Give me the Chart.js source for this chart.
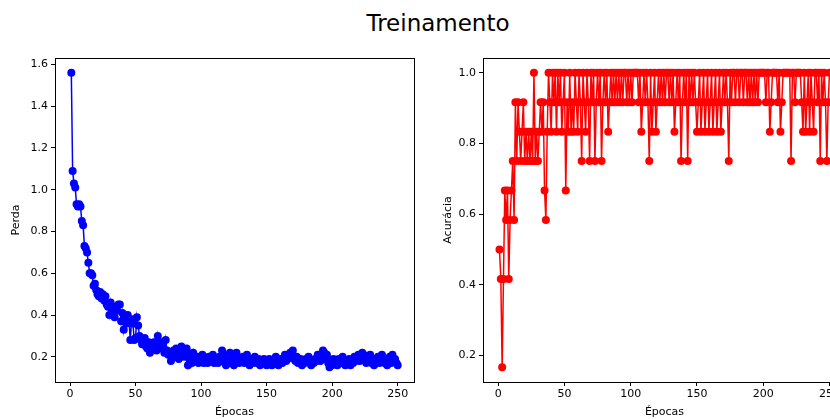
<!DOCTYPE html>
<html><head><meta charset="utf-8">
<script src="https://cdn.jsdelivr.net/npm/chart.js@4.4.1/dist/chart.umd.min.js"></script>
<style>
html,body{margin:0;padding:0;background:#fff;width:830px;height:419px;overflow:hidden;position:relative;font-family:"DejaVu Sans",sans-serif;}
#title{position:absolute;top:10px;left:0;width:876px;text-align:center;font-size:23px;color:#000;}
#wl{position:absolute;left:0;top:0;width:424px;height:419px;}
#wr{position:absolute;left:428px;top:0;width:430px;height:419px;}
</style></head><body>
<div id="title">Treinamento</div>
<div id="wl"><canvas id="cl"></canvas></div>
<div id="wr"><canvas id="cr"></canvas></div>
<script>
const lossValues = [
1.56,1.09,1.03,1.01,0.93,0.92,0.93,0.92,0.85,0.83,
0.73,0.72,0.70,0.65,0.60,0.60,0.59,0.54,0.55,0.52,
0.50,0.49,0.51,0.48,0.50,0.47,0.49,0.45,0.44,0.40,
0.46,0.42,0.41,0.39,0.44,0.42,0.45,0.45,0.37,0.41,
0.33,0.38,0.36,0.40,0.37,0.28,0.38,0.36,0.28,0.29,
0.39,0.35,0.30,0.28,0.26,0.27,0.29,0.25,0.24,0.27,
0.22,0.26,0.25,0.27,0.24,0.23,0.30,0.26,0.27,0.24,
0.25,0.22,0.28,0.23,0.21,0.22,0.18,0.21,0.23,0.20,
0.24,0.22,0.19,0.21,0.25,0.23,0.20,0.22,0.24,0.16,
0.19,0.21,0.17,0.22,0.18,0.19,0.20,0.17,0.18,0.19,
0.21,0.17,0.18,0.19,0.17,0.20,0.18,0.19,0.21,0.17,
0.18,0.19,0.17,0.20,0.18,0.23,0.21,0.19,0.16,0.18,
0.17,0.22,0.19,0.20,0.16,0.21,0.22,0.18,0.17,0.19,
0.18,0.20,0.17,0.19,0.21,0.18,0.16,0.18,0.19,0.17,
0.20,0.18,0.17,0.19,0.16,0.18,0.17,0.19,0.18,0.16,
0.17,0.19,0.18,0.16,0.17,0.18,0.20,0.17,0.16,0.18,
0.19,0.17,0.18,0.21,0.18,0.19,0.20,0.22,0.21,0.23,
0.19,0.18,0.20,0.17,0.18,0.19,0.16,0.18,0.17,0.19,
0.18,0.20,0.17,0.16,0.18,0.17,0.19,0.18,0.21,0.19,
0.18,0.20,0.23,0.22,0.19,0.21,0.17,0.15,0.18,0.16,
0.19,0.17,0.18,0.16,0.19,0.17,0.18,0.20,0.17,0.16,
0.18,0.17,0.19,0.16,0.18,0.17,0.20,0.18,0.19,0.21,
0.18,0.20,0.22,0.21,0.19,0.17,0.20,0.18,0.21,0.17,
0.19,0.16,0.17,0.18,0.20,0.17,0.18,0.21,0.19,0.17,
0.18,0.16,0.19,0.20,0.17,0.21,0.18,0.19,0.17,0.16
];
const accValues = [
0.5,0.4167,0.1667,0.4167,0.6667,0.5833,0.6667,0.4167,0.5833,0.6667,
0.75,0.5833,0.9167,0.75,0.9167,0.8333,0.75,0.8333,0.9167,0.75,
0.8333,0.75,0.8333,0.75,0.8333,0.75,1.0,0.75,0.8333,0.75,
0.8333,0.9167,0.8333,0.9167,0.6667,0.5833,0.8333,1.0,0.9167,0.8333,
1.0,0.9167,1.0,0.8333,1.0,0.9167,1.0,0.8333,0.9167,1.0,
0.6667,0.9167,0.8333,1.0,0.8333,0.9167,0.8333,1.0,0.9167,0.8333,
1.0,0.9167,0.75,1.0,0.9167,0.8333,1.0,0.9167,0.75,1.0,
0.9167,1.0,0.75,0.9167,1.0,0.9167,1.0,0.75,0.9167,1.0,
0.9167,1.0,0.8333,0.9167,1.0,0.9167,1.0,0.9167,1.0,0.9167,
1.0,0.9167,1.0,0.9167,1.0,1.0,0.9167,1.0,0.9167,1.0,
0.9167,1.0,1.0,1.0,1.0,0.9167,1.0,0.8333,0.9167,1.0,
0.9167,1.0,0.9167,0.75,1.0,0.8333,0.9167,1.0,0.8333,0.9167,
1.0,0.9167,1.0,0.9167,1.0,0.9167,1.0,1.0,0.9167,1.0,
0.9167,1.0,0.8333,0.9167,1.0,0.9167,1.0,0.75,0.9167,1.0,
0.9167,1.0,0.75,1.0,0.9167,1.0,0.9167,1.0,0.9167,0.8333,
0.9167,1.0,0.8333,0.9167,1.0,0.8333,0.9167,1.0,0.8333,0.9167,
1.0,0.8333,0.9167,1.0,0.8333,0.9167,1.0,0.8333,0.9167,1.0,
0.9167,1.0,0.9167,0.75,1.0,0.9167,1.0,1.0,0.9167,1.0,
1.0,0.9167,1.0,1.0,0.9167,1.0,1.0,0.9167,1.0,0.9167,
1.0,0.9167,1.0,0.9167,1.0,0.9167,1.0,1.0,1.0,1.0,
1.0,0.9167,1.0,1.0,0.8333,0.9167,1.0,1.0,1.0,1.0,
0.9167,1.0,0.8333,0.9167,1.0,1.0,1.0,1.0,1.0,1.0,
0.75,1.0,1.0,0.9167,1.0,1.0,1.0,1.0,0.9167,0.8333,
1.0,0.8333,0.9167,1.0,0.8333,1.0,0.9167,0.8333,1.0,1.0,
0.9167,1.0,0.75,1.0,0.9167,1.0,0.9167,0.75,0.9167,1.0
];
const epochs = lossValues.map((_, i) => i + 1);
const xTicks = [0, 50, 100, 150, 200, 250];
const lossTicks = [0.2, 0.4, 0.6, 0.8, 1.0, 1.2, 1.4, 1.6];
const accTicks = [0.2, 0.4, 0.6, 0.8, 1.0];
const xLabel = 'Épocas';
const lossLabel = 'Perda';
const accLabel = 'Acurácia';

const FONT = {family: '"DejaVu Sans", sans-serif', size: 11};
Chart.defaults.color = '#000';
Chart.defaults.font = FONT;

const boxPlugin = {
  id: 'box',
  afterDraw(chart) {
    const a = chart.chartArea, c = chart.ctx;
    c.save(); c.strokeStyle = '#000'; c.lineWidth = 1;
    c.strokeRect(Math.round(a.left) + 0.5, Math.round(a.top) + 0.5, Math.round(a.right - a.left), Math.round(a.bottom - a.top));
    c.restore();
  }
};

function makeChart(id, values, color, yTicks, yMin, yMax, yTitle, padRight, yTitlePad) {
  const xs = epochs;
  const xr = xs[xs.length - 1] - xs[0];
  const yFmt = v => v.toFixed(1);
  new Chart(document.getElementById(id), {
    type: 'line',
    data: { datasets: [{
      data: xs.map((x, i) => ({x: x, y: values[i]})),
      borderColor: color, backgroundColor: color,
      borderWidth: 1.5, pointRadius: 4, pointHoverRadius: 4,
      pointBorderWidth: 0, tension: 0
    }]},
    options: {
      responsive: true, maintainAspectRatio: false, animation: false,
      layout: {padding: {top: 58, right: padRight, left: 0, bottom: 0}},
      plugins: {legend: {display: false}, tooltip: {enabled: false}},
      scales: {
        x: {
          type: 'linear', min: xs[0] - 0.05 * xr, max: xs[xs.length - 1] + 0.05 * xr,
          afterBuildTicks: s => { s.ticks = xTicks.map(v => ({value: v})); },
          afterFit: s => { s.height = 37; },
          grid: {drawOnChartArea: false, drawTicks: true, tickLength: 4, color: '#000'},
          border: {display: true, color: '#000'},
          ticks: {padding: 2, maxRotation: 0, color: '#000', font: FONT, callback: v => String(v)},
          title: {display: true, text: xLabel, font: FONT, color: '#000', padding: {top: 2, bottom: 0}}
        },
        y: {
          type: 'linear', min: yMin, max: yMax,
          afterBuildTicks: s => { s.ticks = yTicks.map(v => ({value: v})); },
          afterFit: s => { s.width = 55; },
          grid: {drawOnChartArea: false, drawTicks: true, tickLength: 4, color: '#000'},
          border: {display: true, color: '#000'},
          ticks: {padding: 3, color: '#000', font: FONT, callback: yFmt},
          title: {display: true, text: yTitle, font: FONT, color: '#000', padding: {top: yTitlePad, bottom: 4}}
        }
      }
    },
    plugins: [boxPlugin]
  });
}

function yRange(vals) {
  const mn = Math.min(...vals), mx = Math.max(...vals), r = mx - mn;
  return [mn - 0.05 * r, mx + 0.05 * r];
}
const lr = yRange(lossValues), ar = yRange(accValues);
makeChart('cl', lossValues, '#0000ff', lossTicks, lr[0], lr[1], lossLabel, 10, 10);
makeChart('cr', accValues, '#ff0000', accTicks, ar[0], ar[1], accLabel, 12, 14);
</script>
</body></html>
